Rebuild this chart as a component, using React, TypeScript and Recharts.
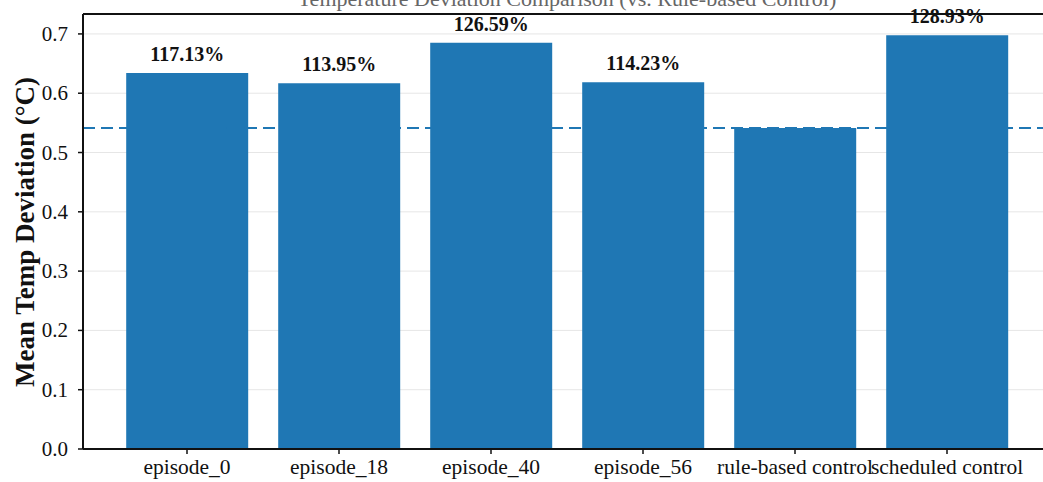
import React from "react";
import {
  BarChart,
  Bar,
  XAxis,
  YAxis,
  CartesianGrid,
  ReferenceLine,
  LabelList,
  Label,
} from "recharts";

const categories = [
  "episode_0",
  "episode_18",
  "episode_40",
  "episode_56",
  "rule-based control",
  "scheduled control",
];
// Each run as a percentage of the rule-based baseline (baseline itself is unlabeled)
const pctOfBaseline = [117.13, 113.95, 126.59, 114.23, 100, 128.93];
const showPct = [true, true, true, true, false, true];
const BASELINE = 0.5413;
const yTicks = [0, 0.1, 0.2, 0.3, 0.4, 0.5, 0.6, 0.7];
const Y_MAX = 0.7336;

const BLUE = "#1f77b4";
const FONT = "'Liberation Serif', 'Times New Roman', serif";

const data = categories.map((name, i) => ({
  name,
  value: (BASELINE * pctOfBaseline[i]) / 100,
  pct: pctOfBaseline[i],
  show: showPct[i],
}));

const XTick = ({ x, y, payload }: any) => (
  <text
    x={x}
    y={y + 18}
    textAnchor="middle"
    style={{ fontFamily: FONT, fontSize: 21.5 }}
    fill="#111"
  >
    {payload.value}
  </text>
);

const YTick = ({ x, y, payload }: any) => (
  <text
    x={x - 8}
    y={y + 7}
    textAnchor="end"
    style={{ fontFamily: FONT, fontSize: 21 }}
    fill="#111"
  >
    {payload.value.toFixed(1)}
  </text>
);

const PctLabel = ({ x, y, width, index }: any) => {
  const d = data[index];
  if (!d || !d.show) return null;
  return (
    <text
      x={x + width / 2}
      y={y - 12}
      textAnchor="middle"
      style={{ fontFamily: FONT, fontWeight: "bold", fontSize: 20 }}
      fill="#111"
    >
      {d.pct.toFixed(2)}%
    </text>
  );
};

export default function App() {
  return (
    <div
      style={{
        position: "absolute",
        left: 0,
        top: 0,
        width: 1043,
        height: 482,
        overflow: "hidden",
        background: "#fff",
      }}
    >
      <BarChart
        width={1060}
        height={482}
        data={data}
        margin={{ top: 14, right: 9, bottom: 0, left: 0 }}
        barCategoryGap="10%"
      >
        <CartesianGrid horizontal vertical={false} stroke="#e6e6e6" strokeWidth={1} />
        <XAxis
          dataKey="name"
          height={33}
          padding={{ left: 28, right: 28 }}
          tick={<XTick />}
          tickSize={5}
          tickLine={{ stroke: "#111", strokeWidth: 1.5 }}
          axisLine={{ stroke: "#111", strokeWidth: 2 }}
          interval={0}
        />
        <YAxis
          width={83}
          domain={[0, Y_MAX]}
          ticks={yTicks}
          tick={<YTick />}
          tickSize={5}
          tickLine={{ stroke: "#111", strokeWidth: 1.5 }}
          axisLine={{ stroke: "#111", strokeWidth: 2 }}
        >
          <Label
            content={() => (
              <text
                x={34}
                y={232}
                transform="rotate(-90, 34, 232)"
                textAnchor="middle"
                style={{ fontFamily: FONT, fontWeight: "bold", fontSize: 27 }}
                fill="#111"
              >
                Mean Temp Deviation (°C)
              </text>
            )}
          />
        </YAxis>
        <ReferenceLine
          y={BASELINE}
          stroke={BLUE}
          strokeWidth={2}
          strokeDasharray="12 6"
        />
        <Bar dataKey="value" fill={BLUE} isAnimationActive={false}>
          <LabelList dataKey="value" content={<PctLabel />} />
        </Bar>
        <ReferenceLine y={Y_MAX} stroke="#111" strokeWidth={2}>
          <Label
            content={() => (
              <text
                x={567}
                y={6}
                textAnchor="middle"
                style={{ fontFamily: FONT, fontSize: 22 }}
                fill="#666"
              >
                Temperature Deviation Comparison (vs. Rule-based Control)
              </text>
            )}
          />
        </ReferenceLine>
      </BarChart>
    </div>
  );
}
